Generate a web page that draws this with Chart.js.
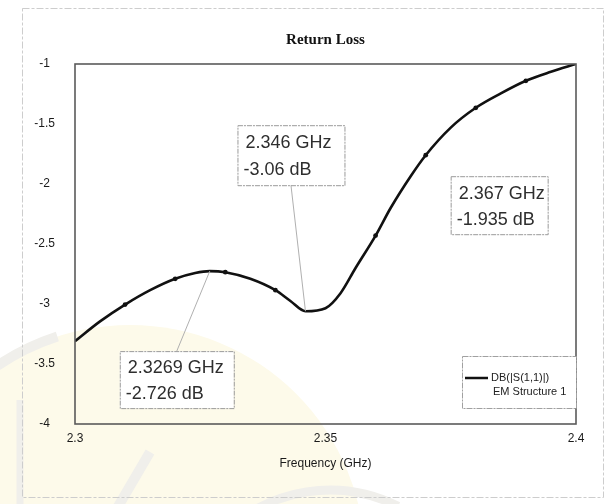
<!DOCTYPE html>
<html>
<head>
<meta charset="utf-8">
<script src="https://cdn.jsdelivr.net/npm/chart.js@4/dist/chart.umd.min.js"></script>
<style>
  html, body { margin: 0; padding: 0; background: #ffffff; }
  #wrap { width: 609px; height: 504px; position: relative; }
</style>
</head>
<body>
<div id="wrap"><canvas id="c" width="609" height="504"></canvas></div>
<script>
// Swept frequency points (GHz) and |S11| in dB
const freqGHz = [2.300, 2.305, 2.310, 2.315, 2.320, 2.324, 2.3269, 2.330, 2.335, 2.340, 2.343, 2.346,
                 2.350, 2.353, 2.356, 2.360, 2.363, 2.367, 2.370, 2.375, 2.380, 2.385, 2.390, 2.395, 2.400];
const s11dB   = [-3.31, -3.145, -3.005, -2.885, -2.79, -2.742, -2.726, -2.735, -2.79, -2.885, -2.975, -3.06,
                 -3.035, -2.91, -2.70, -2.43, -2.20, -1.935, -1.76, -1.53, -1.365, -1.245, -1.14, -1.065, -1.00];

// Trace symbols every 10 MHz
const symbolFreqs = [2.31, 2.32, 2.33, 2.34, 2.36, 2.37, 2.38, 2.39];

// Marker readouts
const markerFreqs = [2.3269, 2.346, 2.367];
const markerVals  = [-2.726, -3.06, -1.935];

// Axis ticks
const xTicks = [2.3, 2.35, 2.4];
const yTicks = [-1, -1.5, -2, -2.5, -3, -3.5, -4];

const traceLabel = 'DB(|S(1,1)|)';
const sourceLabel = 'EM Structure 1';

const points = freqGHz.map((f, i) => ({ x: f, y: s11dB[i] }));
const symbolRadius = freqGHz.map(f => symbolFreqs.some(s => Math.abs(s - f) < 0.0015) ? 2.4 : 0);

// readout box placement (pixel offsets from the marked point), leader line on/off
const readoutLayout = [
  { dx: -90, dy: 80, w: 114, h: 57, leader: true },
  { dx: -68, dy: -186, w: 107, h: 60, leader: true },
  { dx: 40, dy: 0, w: 97, h: 58, leader: false }
];

const textFont = '"Liberation Sans", Arial, sans-serif';
const narrowFont = '"Liberation Sans Narrow", "Liberation Sans", Arial, sans-serif';

const backdrop = {
  id: 'backdrop',
  beforeDraw(chart) {
    const ctx = chart.ctx;
    ctx.save();
    ctx.fillStyle = '#ffffff';
    ctx.fillRect(0, 0, chart.width, chart.height);
    // faint crest behind the plot
    ctx.fillStyle = '#fdfaea';
    ctx.beginPath();
    ctx.arc(130, 560, 235, 0, Math.PI * 2);
    ctx.fill();
    ctx.strokeStyle = '#f0efeb';
    ctx.lineWidth = 10;
    ctx.beginPath();
    ctx.arc(130, 560, 235, Math.PI * 1.05, Math.PI * 1.40);
    ctx.stroke();
    ctx.beginPath();
    ctx.moveTo(150, 452); ctx.lineTo(116, 510);
    ctx.stroke();
    ctx.lineWidth = 7;
    ctx.beginPath();
    ctx.moveTo(20, 400); ctx.lineTo(20, 504);
    ctx.stroke();
    ctx.lineWidth = 9;
    ctx.beginPath();
    ctx.arc(330, 640, 150, Math.PI * 1.25, Math.PI * 1.65);
    ctx.stroke();
    // page frame
    ctx.strokeStyle = '#cdcdcd';
    ctx.lineWidth = 1;
    ctx.setLineDash([7, 2, 3, 2]);
    ctx.strokeRect(22.5, 8.5, 581, 489);
    ctx.restore();
  }
};

const frameAndNotes = {
  id: 'frameAndNotes',
  afterDatasetsDraw(chart) {
    const ctx = chart.ctx;
    const a = chart.chartArea;
    const xs = chart.scales.x, ys = chart.scales.y;
    ctx.save();
    // plot frame
    ctx.strokeStyle = '#5a5a5a';
    ctx.lineWidth = 1.6;
    ctx.strokeRect(a.left, a.top, a.right - a.left, a.bottom - a.top);

    // marker readouts
    markerFreqs.forEach((f, i) => {
      const px = xs.getPixelForValue(f), py = ys.getPixelForValue(markerVals[i]);
      const L = readoutLayout[i];
      const bx = px + L.dx, by = py + L.dy;
      if (L.leader) {
        ctx.strokeStyle = '#b0b0b0';
        ctx.lineWidth = 1;
        ctx.setLineDash([]);
        ctx.beginPath();
        ctx.moveTo(px, py);
        ctx.lineTo(bx + L.w * 0.5, L.dy > 0 ? by : by + L.h);
        ctx.stroke();
      }
      ctx.fillStyle = '#ffffff';
      ctx.fillRect(bx, by, L.w, L.h);
      ctx.strokeStyle = '#9a9a9a';
      ctx.lineWidth = 1;
      ctx.setLineDash([5, 1, 2, 1]);
      ctx.strokeRect(bx + 0.5, by + 0.5, L.w, L.h);
      ctx.setLineDash([]);
      ctx.fillStyle = '#2e2e2e';
      ctx.font = '18px ' + textFont;
      ctx.textAlign = 'left';
      ctx.textBaseline = 'middle';
      ctx.fillText(f + ' GHz', bx + 8, by + L.h * 0.3);
      ctx.fillText(markerVals[i] + ' dB', bx + 6, by + L.h * 0.75);
    });

    // legend
    const lx = a.right - 114, ly = a.bottom - 68, lw = 114, lh = 52;
    ctx.fillStyle = '#ffffff';
    ctx.fillRect(lx, ly, lw, lh);
    ctx.strokeStyle = '#a0a0a0';
    ctx.lineWidth = 1;
    ctx.setLineDash([6, 1, 2, 1]);
    ctx.strokeRect(lx + 0.5, ly + 0.5, lw, lh);
    ctx.setLineDash([]);
    ctx.strokeStyle = '#111111';
    ctx.lineWidth = 2.5;
    ctx.beginPath();
    ctx.moveTo(lx + 3, ly + 22); ctx.lineTo(lx + 26, ly + 22);
    ctx.stroke();
    ctx.fillStyle = '#222222';
    ctx.font = '11px ' + narrowFont;
    ctx.textAlign = 'left';
    ctx.textBaseline = 'middle';
    ctx.fillText(chart.data.datasets[0].label, lx + 29, ly + 22);
    ctx.fillText(sourceLabel, lx + 31, ly + 36);
    ctx.restore();
  }
};

new Chart(document.getElementById('c'), {
  type: 'scatter',
  data: {
    datasets: [{
      label: traceLabel,
      data: points,
      showLine: true,
      borderColor: '#111111',
      borderWidth: 2.6,
      cubicInterpolationMode: 'monotone',
      pointRadius: symbolRadius,
      pointBackgroundColor: '#111111',
      pointBorderWidth: 0
    }]
  },
  options: {
    responsive: false,
    animation: false,
    layout: { padding: { left: 0, right: 33, top: 0, bottom: 0 } },
    plugins: {
      legend: { display: false },
      tooltip: { enabled: false },
      title: {
        display: true,
        fullSize: false,
        text: 'Return Loss',
        color: '#111111',
        font: { family: '"Liberation Serif", "Times New Roman", serif', size: 15, weight: 'bold' },
        padding: { top: 31, bottom: 15 }
      }
    },
    scales: {
      x: {
        type: 'linear',
        min: 2.3, max: 2.4,
        afterBuildTicks(scale) { scale.ticks = xTicks.map(v => ({ value: v })); },
        afterFit(scale) { scale.height = 80; },
        grid: { display: false, drawTicks: false },
        border: { display: false },
        ticks: {
          color: '#1a1a1a',
          font: { family: narrowFont, size: 12 },
          padding: 7,
          maxRotation: 0,
          callback: v => String(v)
        },
        title: {
          display: true,
          text: 'Frequency (GHz)',
          color: '#1a1a1a',
          font: { family: narrowFont, size: 12 },
          padding: { top: 0, bottom: 33 }
        }
      },
      y: {
        type: 'linear',
        min: -4, max: -1,
        afterBuildTicks(scale) { scale.ticks = yTicks.map(v => ({ value: v })); },
        afterFit(scale) { scale.width = 75; },
        grid: { display: false, drawTicks: false },
        border: { display: false },
        ticks: {
          color: '#1a1a1a',
          font: { family: narrowFont, size: 12 },
          crossAlign: 'center',
          padding: 20,
          callback: v => String(v)
        }
      }
    }
  },
  plugins: [backdrop, frameAndNotes]
});
</script>
</body>
</html>
